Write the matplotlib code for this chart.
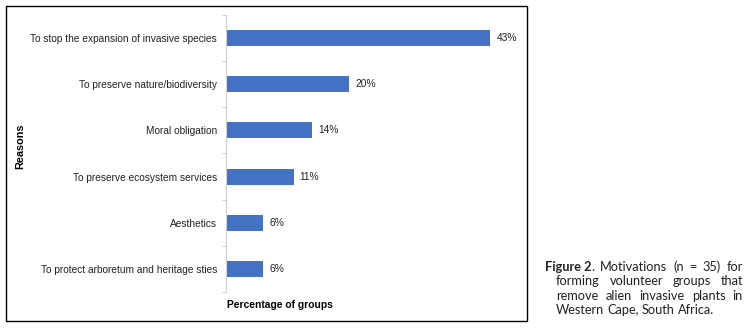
import matplotlib.pyplot as plt
from matplotlib.patches import Rectangle

reasons = [
    "To stop the expansion of invasive species",
    "To preserve nature/biodiversity",
    "Moral obligation",
    "To preserve ecosystem services",
    "Aesthetics",
    "To protect arboretum and heritage sties",
]
percent = [43, 20, 14, 11, 6, 6]
value_labels = ["43%", "20%", "14%", "11%", "6%", "6%"]

caption_lines = [
    ["Motivations", "(n", "=", "35)", "for"],
    ["forming", "volunteer", "groups", "that"],
    ["remove", "alien", "invasive", "plants", "in"],
    ["Western", "Cape,", "South", "Africa."],
]

W, H = 751, 332
plt.rcParams['font.family'] = ['Liberation Sans', 'DejaVu Sans']

fig = plt.figure(figsize=(W / 100, H / 100), dpi=100)

def fx(px):
    return px / W

def fy(py):
    return 1 - py / H

# outer frame of the chart
fig.patches.append(Rectangle((fx(6), fy(321)), fx(521), (321 - 6) / H,
                             transform=fig.transFigure, fill=False,
                             edgecolor='black', linewidth=1.0))

ax = fig.add_axes([fx(226), fy(292), fx(521 - 226), (292 - 15) / H])
ypos = list(range(len(reasons)))
ax.barh(ypos, percent, height=0.35, color='#4472C4')
ax.set_ylim(len(reasons) - 0.5, -0.5)
ax.set_xlim(0, 48)
ax.set_yticks(ypos)
ax.set_yticklabels(reasons, fontsize=7.3, color='#222222')
ax.tick_params(axis='y', which='major', length=0, pad=6.5)
ax.set_yticks([i - 0.5 for i in range(len(reasons) + 1)], minor=True)
ax.tick_params(axis='y', which='minor', length=3, color='#d0d0d0', width=0.8)
ax.set_xticks([])
for side in ['top', 'right', 'bottom']:
    ax.spines[side].set_visible(False)
ax.spines['left'].set_color('#d0d0d0')
ax.spines['left'].set_linewidth(0.8)

for i, (v, lab) in enumerate(zip(percent, value_labels)):
    ax.text(v + 1.0, i, lab, va='center', ha='left', fontsize=7.4, color='#222222')

fig.text(fx(227), fy(305), "Percentage of groups", fontsize=7.4, fontweight='bold',
         ha='left', va='center')
fig.text(fx(20), fy(146), "Reasons", fontsize=7.8, fontweight='bold',
         rotation=90, ha='center', va='center')

# caption, justified lines with a hanging indent
renderer = fig.canvas.get_renderer()
cap_font = dict(family=['Lato', 'DejaVu Sans'], fontsize=9.2, color='#222222')
line_y = [267, 281, 296, 310]
right = 743

def width_of(t):
    bb = t.get_window_extent(renderer=renderer)
    return bb.width

for n, words in enumerate(caption_lines):
    y = fy(line_y[n])
    items = []
    if n == 0:
        items.append(fig.text(0, y, "Figure 2", fontweight='bold', va='center', **cap_font))
        items.append(fig.text(0, y, ".", va='center', **cap_font))
        x0 = 545
    else:
        x0 = 556
    for w in words:
        items.append(fig.text(0, y, w, va='center', **cap_font))
    if n == 0:
        groups = [[items[0], items[1]]] + [[t] for t in items[2:]]
    else:
        groups = [[t] for t in items]
    widths = [sum(width_of(t) for t in g) for g in groups]
    if n < len(caption_lines) - 1:
        gap = (right - x0 - sum(widths)) / (len(groups) - 1)
    else:
        gap = 3.2
    x = x0
    for g, gw in zip(groups, widths):
        xx = x
        for t in g:
            t.set_x(fx(xx))
            xx += width_of(t)
        x += gw + gap

fig.savefig("out.png", dpi=100)
